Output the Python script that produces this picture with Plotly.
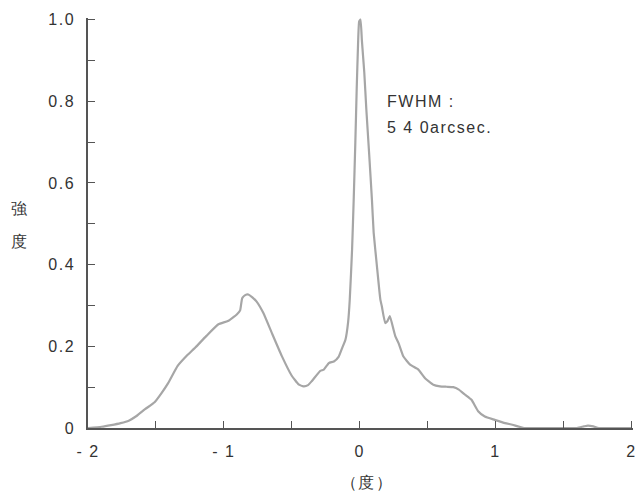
import plotly.graph_objects as go

angle_deg = [-2.0, -1.9, -1.83, -1.76, -1.70, -1.64, -1.58, -1.51, -1.46, -1.41, -1.34, -1.27,
             -1.21, -1.13, -1.04, -0.97, -0.905, -0.88, -0.865, -0.84, -0.82, -0.79, -0.76,
             -0.71, -0.647, -0.573, -0.50, -0.45, -0.413, -0.38, -0.352, -0.29, -0.264,
             -0.227, -0.19, -0.154, -0.13, -0.105, -0.085, -0.073, -0.056, -0.044, -0.032,
             -0.022, -0.012, -0.004, 0.006, 0.016, 0.025, 0.034, 0.049, 0.07, 0.09,
             0.103, 0.127, 0.152, 0.163, 0.188, 0.205, 0.222, 0.249, 0.262, 0.286, 0.322,
             0.371, 0.432, 0.481, 0.542, 0.591, 0.64, 0.689, 0.73, 0.774, 0.823, 0.872,
             0.921, 0.994, 1.07, 1.124, 1.21, 1.4, 1.6, 1.65, 1.68, 1.72, 1.76, 2.0]
intensity = [0.000, 0.003, 0.007, 0.012, 0.018, 0.030, 0.046, 0.063, 0.085, 0.110, 0.152, 0.178,
             0.197, 0.225, 0.254, 0.262, 0.278, 0.288, 0.318, 0.326, 0.327, 0.320, 0.310,
             0.282, 0.233, 0.176, 0.128, 0.107, 0.102, 0.105, 0.115, 0.140, 0.143,
             0.159, 0.163, 0.175, 0.195, 0.216, 0.260, 0.315, 0.437, 0.560, 0.700,
             0.830, 0.940, 0.995, 1.000, 0.950, 0.910, 0.870, 0.780, 0.670, 0.560,
             0.478, 0.396, 0.315, 0.298, 0.257, 0.262, 0.274, 0.241, 0.225, 0.208, 0.175,
             0.155, 0.143, 0.122, 0.106, 0.102, 0.101, 0.100, 0.094, 0.082, 0.069, 0.041,
             0.028, 0.020, 0.012, 0.008, 0.000, 0.000, 0.000, 0.004, 0.006, 0.004, 0.000, 0.000]

x_tickvals = [-2, -1, 0, 1, 2]
x_ticktext = ["- 2", "- 1", "0", "1", "2"]
x_minor_vals = [-1.5, -0.5, 0.5, 1.5]
y_tickvals = [0, 0.2, 0.4, 0.6, 0.8, 1.0]
y_ticktext = ["0", "0.2", "0.4", "0.6", "0.8", "1.0"]

font_family = "Liberation Sans, Arial, sans-serif"
text_color = "#333333"
axis_color = "#555555"
FS = 16

W, H = 638, 492
# pixel positions of the data frame: x=-2 at 88, x=2 at 634, y=0 at 428, y=1 at 20
L, R, T, B = 88, 4, 20, 64
PW, PH = W - L - R, H - T - B
X_PAD = 0.012  # small range extension so end ticks are not clipped
Y_PAD = 0.004
R_EFF = R - X_PAD / 4.0 * PW
T_EFF = T - Y_PAD / 1.0 * PH


def px2paper(px, py):
    return (px - L) / (W - L - R_EFF), 1 - (py - T_EFF) / (H - T_EFF - B)


fig = go.Figure()
fig.add_trace(go.Scatter(
    x=angle_deg, y=intensity, mode="lines",
    line=dict(color="#a6a6a6", width=2.2, shape="spline", smoothing=0.4),
    cliponaxis=False, showlegend=False, hoverinfo="skip",
))

annots = []
for text, px, py, anchor in [
    ("FWHM :", 386, 102, "left"),
    ("5 4 0arcsec.", 386, 128, "left"),
    ("強", 20, 209, "center"),
    ("度", 20, 242, "center"),
    ("（度）", 368, 482, "center"),
]:
    x, y = px2paper(px, py)
    annots.append(dict(text=text, x=x, y=y, xref="paper", yref="paper",
                       xanchor=anchor, yanchor="middle", align=anchor, showarrow=False,
                       font=dict(family=font_family, size=FS, color=text_color)))

fig.update_layout(
    width=W, height=H,
    margin=dict(l=L, r=R_EFF, t=T_EFF, b=B),
    paper_bgcolor="white", plot_bgcolor="white",
    font=dict(family=font_family, size=FS, color=text_color),
    xaxis=dict(
        range=[-2.0, 2.0 + X_PAD], tickvals=x_tickvals, ticktext=x_ticktext,
        ticks="inside", ticklen=7, tickcolor=axis_color, tickwidth=1,
        showline=True, linecolor=axis_color, linewidth=1.5,
        showgrid=False, zeroline=False, ticklabelstandoff=8,
        ticklabeloverflow="allow",
        minor=dict(tickvals=x_minor_vals, ticks="inside", ticklen=7, tickcolor=axis_color, showgrid=False),
    ),
    yaxis=dict(
        range=[0, 1.0 + Y_PAD], tickvals=y_tickvals, ticktext=y_ticktext,
        ticks="inside", ticklen=7, tickcolor=axis_color, tickwidth=1,
        showline=True, linecolor=axis_color, linewidth=1.5,
        showgrid=False, zeroline=False, ticklabelstandoff=8,
        ticklabeloverflow="allow",
        minor=dict(dtick=0.1, tick0=0, ticks="inside", ticklen=7, tickcolor=axis_color, showgrid=False),
    ),
    annotations=annots,
)

post = ("var s=document.createElement('style');"
        "s.textContent='body{margin:0 !important;} svg text{letter-spacing:1.5px;}';"
        "document.head.appendChild(s);")

fig.write_html("out.html", post_script=post, config={"displayModeBar": False})
